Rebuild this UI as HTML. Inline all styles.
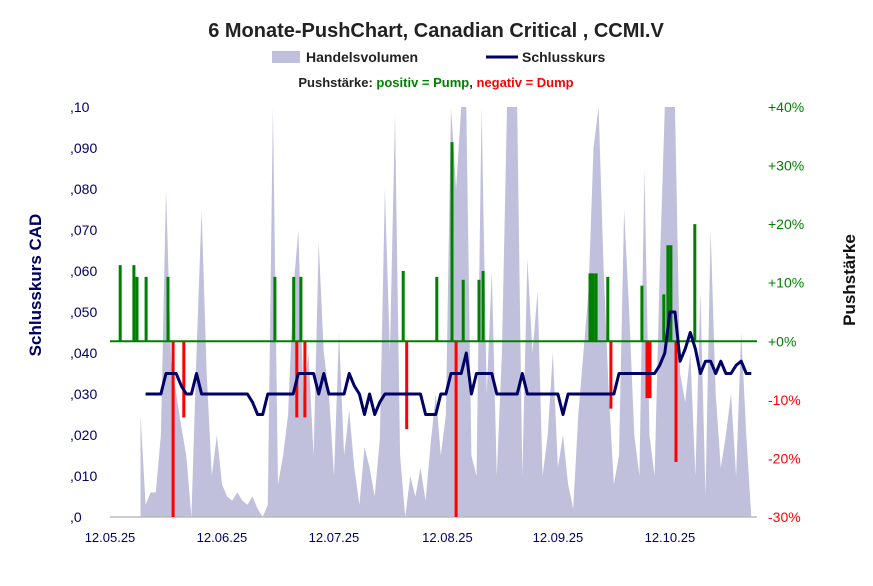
<!DOCTYPE html>
<html><head><meta charset="utf-8"><style>
body{margin:0;background:#fff;font-family:"Liberation Sans",sans-serif}
svg text{font-family:"Liberation Sans",sans-serif}
</style></head><body>
<svg id="c" width="873" height="581" xmlns="http://www.w3.org/2000/svg">
<text x="436" y="37" text-anchor="middle" font-size="20" font-weight="bold" fill="#222">6 Monate-PushChart, Canadian Critical , CCMI.V</text>
<g>
<rect x="272" y="51" width="28" height="12" fill="#c0c0dc"/>
<text x="306" y="62" font-size="14" font-weight="bold" fill="#222">Handelsvolumen</text>
<line x1="486" y1="57" x2="518" y2="57" stroke="#000066" stroke-width="3"/>
<text x="522" y="62" font-size="14" font-weight="bold" fill="#222">Schlusskurs</text>
</g>
<text x="436" y="87" text-anchor="middle" font-size="13" font-weight="bold"><tspan fill="#222">Pushstärke:  </tspan><tspan fill="#008000">positiv = Pump</tspan><tspan fill="#222">,  </tspan><tspan fill="#ff0000">negativ = Dump</tspan></text>
<text transform="translate(41,285) rotate(-90)" text-anchor="middle" font-size="17" font-weight="bold" fill="#000066">Schlusskurs CAD</text>
<text transform="translate(855,280) rotate(-90)" text-anchor="middle" font-size="17" font-weight="bold" fill="#111">Pushstärke</text>
<g id="plot"></g>
</svg>
<script>
const priceTicks=[0,0.01,0.02,0.03,0.04,0.05,0.06,0.07,0.08,0.09,0.10];
const priceTickLabels=[",0",",010",",020",",030",",040",",050",",060",",070",",080",",090",",10"];
const pushTicks=[-30,-20,-10,0,10,20,30,40];
const pushTickLabels=["-30%","-20%","-10%","+0%","+10%","+20%","+30%","+40%"];
const dateLabels=["12.05.25","12.06.25","12.07.25","12.08.25","12.09.25","12.10.25"];
const dateIdx=[0,22,44,66.3,88,110];
const price=[null,null,null,null,null,null,null,0.030,0.030,0.030,0.030,0.035,0.035,0.035,0.032,0.030,0.030,0.035,0.030,0.030,0.030,0.030,0.030,0.030,0.030,0.030,0.030,0.030,0.028,0.025,0.025,0.030,0.030,0.030,0.030,0.030,0.030,0.035,0.035,0.035,0.035,0.030,0.035,0.030,0.030,0.030,0.030,0.035,0.032,0.030,0.025,0.030,0.025,0.028,0.030,0.030,0.030,0.030,0.030,0.030,0.030,0.030,0.025,0.025,0.025,0.030,0.030,0.035,0.035,0.035,0.040,0.030,0.035,0.035,0.035,0.035,0.030,0.030,0.030,0.030,0.030,0.035,0.030,0.030,0.030,0.030,0.030,0.030,0.030,0.025,0.030,0.030,0.030,0.030,0.030,0.030,0.030,0.030,0.030,0.030,0.035,0.035,0.035,0.035,0.035,0.035,0.035,0.035,0.037,0.040,0.050,0.050,0.038,0.041,0.045,0.041,0.035,0.038,0.038,0.035,0.038,0.035,0.035,0.037,0.038,0.035,0.035];
const volume=[null,null,null,null,null,null,25,3,6,6,20,80,38,30,22,15,0,40,75,35,10,20,8,5,4,6,4,3,5,2,0,3,100,8,15,25,55,70,30,40,15,67,40,30,10,45,15,26,12,3,17,12,5,19,80,40,98,15,0,10,5,12,4,18,30,15,25,100,80,100,100,15,10,100,30,60,10,40,100,100,100,10,63,40,55,10,20,40,12,20,8,2,25,40,55,90,100,60,30,8,15,75,50,20,10,85,20,10,60,100,100,100,35,28,40,10,55,5,70,30,12,20,30,10,45,20,0];
const pushAt=[2.0,4.7,5.3,7.1,11.4,12.4,14.5,32.4,36.1,36.7,37.5,38.3,57.6,58.3,64.2,67.2,68.0,69.4,72.5,73.3,94.3,94.9,95.5,97.8,98.4,104.5,105.5,106.1,108.8,109.6,110.2,111.2,114.9];
const pushPct=[13,13,11,11,11,-30,-13,11,11,-13,11,-13,12,-15,11,34,-30,10.5,10.5,12,11.6,11.6,11.6,11,-11.5,9.5,-9.7,-9.7,8,16.4,16.4,-20.6,20];

const NS="http://www.w3.org/2000/svg";
const X0=110,X1=757,YT=107,YB=517,STEP=5.09;
const x=i=>X0+i*STEP;
const yP=v=>YB-(v/0.10)*(YB-YT);
const yV=p=>YB-Math.min(p,100)/100*(YB-YT);
const yR=p=>YB-(p+30)/70*(YB-YT);
const plot=document.getElementById('plot');
function mk(t,a){const e=document.createElementNS(NS,t);for(const k in a)e.setAttribute(k,a[k]);plot.appendChild(e);return e;}

let first=volume.findIndex(v=>v!==null),last=volume.length-1;
let d="M"+x(first)+","+YB;
volume.forEach((v,i)=>{if(v!==null)d+=" L"+x(i).toFixed(1)+","+yV(v).toFixed(1);});
d+=" L"+x(last)+","+YB+"Z";
let area=mk('path',{d:d,fill:'#c0c0dc'});



let bl=mk('line',{x1:X0,y1:YB,x2:X1,y2:YB,stroke:'#bbb','stroke-width':1.5});



pushAt.forEach((p,i)=>{const v=pushPct[i];const y0=yR(0),y1=yR(v);
 const r=mk('rect',{x:(x(p)-1.5).toFixed(1),y:Math.min(y0,y1),width:3,height:Math.abs(y1-y0),fill:v>=0?'#008000':'#ff0000'});
 
 });

let zl=mk('line',{x1:X0,y1:yR(0),x2:X1,y2:yR(0),stroke:'#008000','stroke-width':2});



let pd="";price.forEach((v,i)=>{if(v!==null)pd+=(pd?" L":"M")+x(i).toFixed(1)+","+yP(v).toFixed(1);});
let pl=mk('path',{d:pd,fill:'none',stroke:'#000066','stroke-width':3,'stroke-linejoin':'round'});



priceTicks.forEach((v,i)=>{const t=mk('text',{x:70,y:yP(v)+5,'font-size':14,fill:'#000066'});t.textContent=priceTickLabels[i];
 
 });
pushTicks.forEach((v,i)=>{const t=mk('text',{x:768,y:yR(v)+5,'font-size':14,fill:v<0?'#ff0000':'#008000'});t.textContent=pushTickLabels[i];
 
 });
dateLabels.forEach((s,i)=>{const t=mk('text',{x:x(dateIdx[i]),y:542,'font-size':13,fill:'#000066','text-anchor':'middle'});t.textContent=s;
 
 });
</script>
</body></html>
